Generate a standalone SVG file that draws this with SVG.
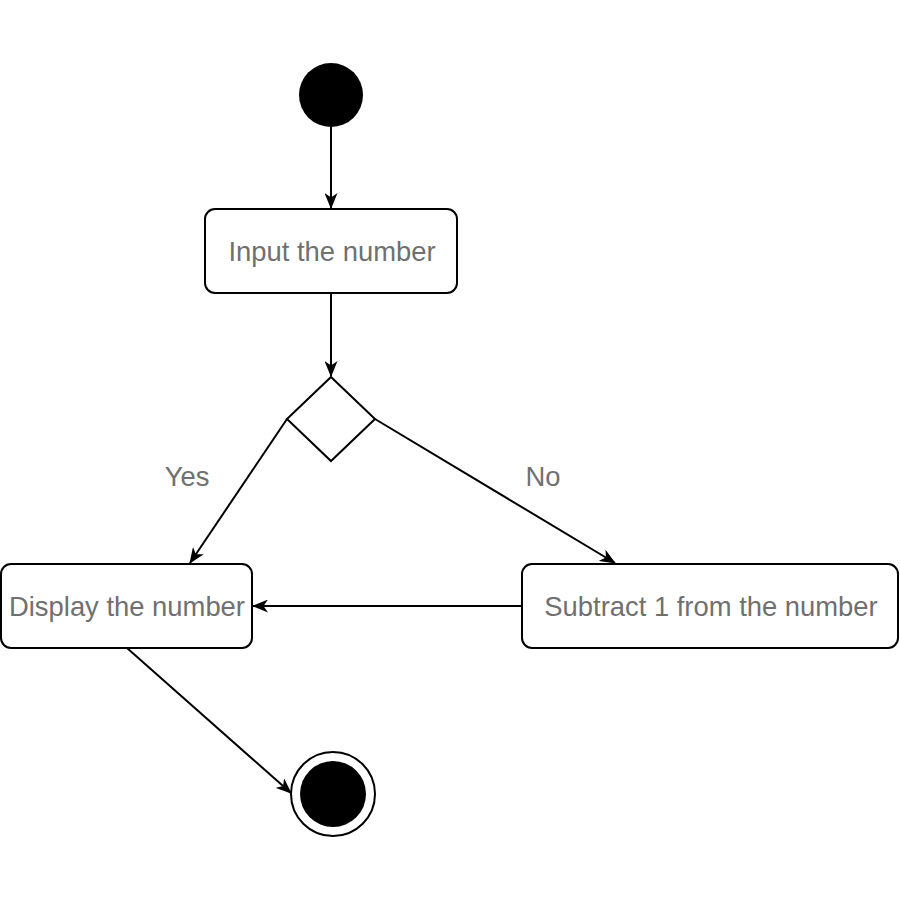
<svg xmlns="http://www.w3.org/2000/svg" width="900" height="900" viewBox="0 0 900 900">
<style>
.box{fill:#fff;stroke:#000;stroke-width:2}
.lbl{font-family:"Liberation Sans",Arial,sans-serif;font-size:27.4px;fill:#707070;text-anchor:middle}
.edge{fill:none;stroke:#000;stroke-width:2}
</style>
<defs>
<marker id="arr" viewBox="0 0 16 13" refX="15" refY="6.5" markerWidth="16" markerHeight="13" markerUnits="userSpaceOnUse" orient="auto">
<path d="M0,0 L16,6.5 L0,13 L4.5,6.5 Z" fill="#000"/>
</marker>
</defs>
<rect width="900" height="900" fill="#fff"/>
<g id="connectors">
<line class="edge" x1="331" y1="127" x2="331" y2="208" marker-end="url(#arr)"/>
<line class="edge" x1="331" y1="293" x2="331" y2="376" marker-end="url(#arr)"/>
<line class="edge" x1="287" y1="419" x2="190" y2="563" marker-end="url(#arr)"/>
<line class="edge" x1="375" y1="419" x2="615" y2="563" marker-end="url(#arr)"/>
<line class="edge" x1="522" y1="606" x2="253" y2="606" marker-end="url(#arr)"/>
<line class="edge" x1="127" y1="648" x2="291" y2="793" marker-end="url(#arr)"/>
<text class="lbl" x="187" y="486">Yes</text>
<text class="lbl" x="543" y="486">No</text>
</g>
<g id="start">
<circle cx="331" cy="95" r="32" fill="#000"/>
</g>
<g id="input">
<rect class="box" x="205" y="209" width="252" height="84" rx="10"/>
<text class="lbl" x="332" y="261">Input the number</text>
</g>
<g id="decision">
<polygon class="box" points="331,377 375,419 331,461 287,419"/>
</g>
<g id="display">
<rect class="box" x="1" y="564" width="251" height="84" rx="10"/>
<text class="lbl" x="127" y="616">Display the number</text>
</g>
<g id="subtract">
<rect class="box" x="522" y="564" width="376" height="84" rx="10"/>
<text class="lbl" x="711" y="616">Subtract 1 from the number</text>
</g>
<g id="end">
<circle cx="333" cy="794" r="42" fill="#fff" stroke="#000" stroke-width="2"/>
<circle cx="333" cy="794" r="33" fill="#000"/>
</g>
</svg>
